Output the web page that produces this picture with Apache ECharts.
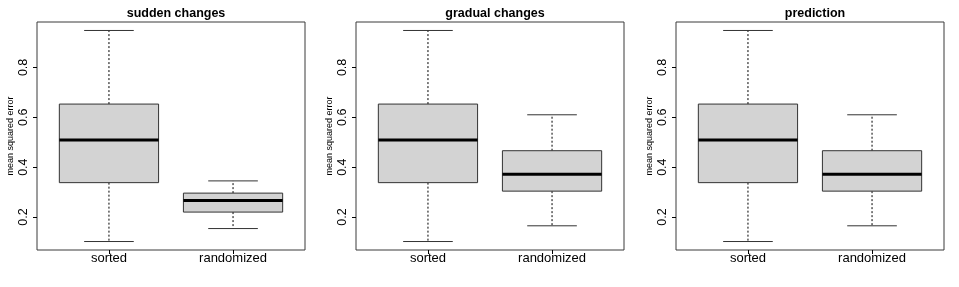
<!DOCTYPE html>
<html>
<head>
<meta charset="utf-8">
<script src="https://cdn.jsdelivr.net/npm/echarts@6/dist/echarts.min.js"></script>
<style>
html,body{margin:0;padding:0;background:#fff;}
#c{width:959px;height:287px;}
</style>
</head>
<body>
<div id="c"></div>
<script>
// ---- data ----
var categories = ['sorted', 'randomized'];
var panelTitles = ['sudden changes', 'gradual changes', 'prediction'];
var yTitle = 'mean squared error';
var yTicks = [0.2, 0.4, 0.6, 0.8];
// [lower whisker, Q1, median, Q3, upper whisker]
var suddenSorted = [0.102, 0.338, 0.509, 0.653, 0.948];
var suddenRandomized = [0.154, 0.220, 0.266, 0.296, 0.345];
var gradualSorted = [0.102, 0.338, 0.509, 0.653, 0.948];
var gradualRandomized = [0.165, 0.304, 0.372, 0.466, 0.610];
var predictionSorted = [0.102, 0.338, 0.509, 0.653, 0.948];
var predictionRandomized = [0.165, 0.304, 0.372, 0.466, 0.610];

var panelData = [
  [suddenSorted, suddenRandomized],
  [gradualSorted, gradualRandomized],
  [predictionSorted, predictionRandomized]
];

// ---- layout ----
var yMin = 0.068, yMax = 0.982;
var panelLeft = [37, 356, 676];
var panelW = 268, panelTop = 22, panelH = 228;
var font = '"Liberation Sans", Arial, Helvetica, sans-serif';

var grids = [], xAxes = [], yAxes = [], series = [], titles = [];

panelLeft.forEach(function (L, p) {
  var unit = panelW / 2.16;
  // frame grid
  grids.push({left: L, top: panelTop, width: panelW, height: panelH, show: true,
    borderColor: '#3a3a3a', borderWidth: 1, backgroundColor: 'transparent', containLabel: false, outerBoundsMode: 'none'});
  // box grid
  grids.push({left: L + 0.08 * unit, top: panelTop, width: 2 * unit, height: panelH,
    show: false, containLabel: false, outerBoundsMode: 'none'});
  var ga = p * 2, gb = p * 2 + 1;
  xAxes.push({gridIndex: ga, type: 'value', min: 0, max: 1, show: false});
  yAxes.push({gridIndex: ga, type: 'value', min: yMin, max: yMax,
    axisLine: {show: false},
    axisTick: {show: true, inside: false, length: 4, lineStyle: {color: '#000', width: 1}, customValues: yTicks},
    axisLabel: {show: true, rotate: 90, margin: 7, fontSize: 12.5, color: '#000', fontFamily: font,
      customValues: yTicks, formatter: function (v) { return String(v); }},
    splitLine: {show: false},
    name: yTitle, nameLocation: 'middle', nameGap: 22,
    nameTextStyle: {fontSize: 9, color: '#000', fontFamily: font}
  });
  xAxes.push({gridIndex: gb, type: 'category', data: categories, boundaryGap: true,
    axisLine: {show: false},
    axisTick: {show: true, alignWithLabel: true, inside: false, length: 4, lineStyle: {color: '#000'}},
    axisLabel: {fontSize: 13, color: '#000', margin: 2, fontFamily: font},
    splitLine: {show: false}
  });
  yAxes.push({gridIndex: gb, type: 'value', min: yMin, max: yMax, show: false, splitLine: {show: false}});

  titles.push({text: panelTitles[p], left: L + panelW / 2, top: 2, textAlign: 'center',
    textStyle: {fontSize: 12.5, fontWeight: 'bold', color: '#000', fontFamily: font}});

  var items = panelData[p].map(function (s, i) { return [i].concat(s); });
  series.push({
    type: 'custom', xAxisIndex: gb, yAxisIndex: gb, data: items,
    encode: {x: 0, y: [1, 2, 3, 4, 5]},
    renderItem: function (params, api) {
      var c = api.value(0);
      var lo = api.value(1), q1 = api.value(2), md = api.value(3), q3 = api.value(4), hi = api.value(5);
      var x = api.coord([c, md])[0];
      var band = api.size([1, 0])[0];
      var bw = band * 0.8, sw = bw / 2;
      var yLo = api.coord([c, lo])[1], yQ1 = api.coord([c, q1])[1], yMd = api.coord([c, md])[1],
          yQ3 = api.coord([c, q3])[1], yHi = api.coord([c, hi])[1];
      var dash = {stroke: '#000', lineWidth: 1, lineDash: [2, 2], fill: null};
      var solid = {stroke: '#333', lineWidth: 1, fill: null};
      return {type: 'group', children: [
        {type: 'line', shape: {x1: x, y1: yQ3, x2: x, y2: yHi}, style: dash},
        {type: 'line', shape: {x1: x, y1: yQ1, x2: x, y2: yLo}, style: dash},
        {type: 'line', shape: {x1: x - sw / 2, y1: yHi, x2: x + sw / 2, y2: yHi}, style: solid},
        {type: 'line', shape: {x1: x - sw / 2, y1: yLo, x2: x + sw / 2, y2: yLo}, style: solid},
        {type: 'rect', shape: {x: x - bw / 2, y: yQ3, width: bw, height: yQ1 - yQ3},
          style: {fill: '#d3d3d3', stroke: '#333', lineWidth: 1}},
        {type: 'line', shape: {x1: x - bw / 2, y1: yMd, x2: x + bw / 2, y2: yMd},
          style: {stroke: '#000', lineWidth: 3}}
      ]};
    }
  });
});

var chart = echarts.init(document.getElementById('c'), null, {renderer: 'canvas'});
chart.setOption({
  animation: false,
  backgroundColor: '#fff',
  title: titles,
  grid: grids,
  xAxis: xAxes,
  yAxis: yAxes,
  series: series
});
</script>
</body>
</html>
